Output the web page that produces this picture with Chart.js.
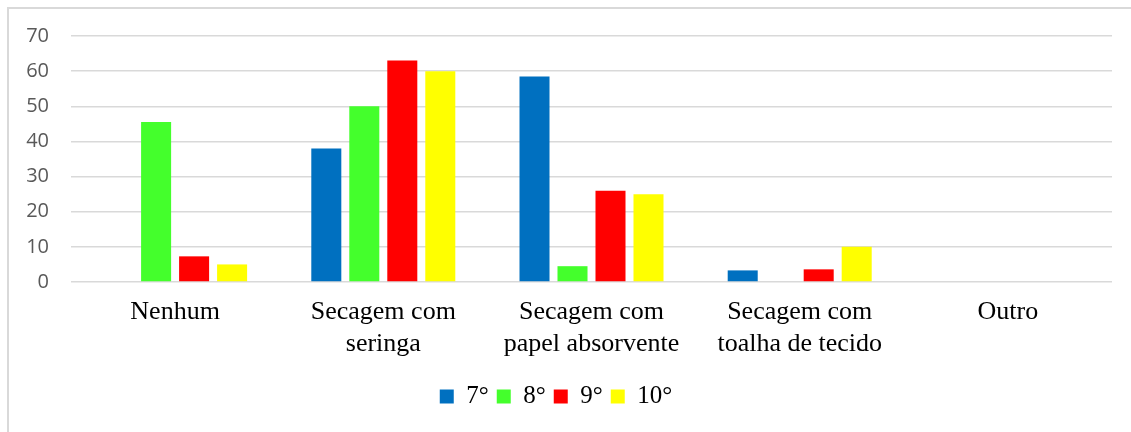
<!DOCTYPE html>
<html>
<head>
<meta charset="utf-8">
<script src="https://cdn.jsdelivr.net/npm/chart.js@4"></script>
<style>
  body { margin: 0; background: #fff; }
  #frame { position: absolute; left: 7px; top: 7px; width: 1200px; height: 500px;
           border-left: 2px solid #d9d9d9; border-top: 2px solid #d9d9d9; }
  #wrap { position: absolute; left: 0; top: 0; width: 1131px; height: 432px; }
</style>
</head>
<body>
<div id="frame"></div>
<div id="wrap"><canvas id="chart" width="1131" height="432"></canvas></div>
<script>
// categories on the x axis
var categories = [
    ['Nenhum'],
    ['Secagem com', 'seringa'],
    ['Secagem com', 'papel absorvente'],
    ['Secagem com', 'toalha de tecido'],
    ['Outro']
];
var seriesNames = ['7°', '8°', '9°', '10°'];
var serie7 = [0, 38, 58.5, 3.3, 0];
var serie8 = [45.5, 50, 4.5, 0, 0];
var serie9 = [7.3, 63, 26, 3.6, 0];
var serie10 = [5, 60, 25, 10, 0];
var colors = ['#0070C0', '#44FF2C', '#FF0000', '#FFFF00'];

var allSeries = [serie7, serie8, serie9, serie10];
var datasets = [];
for (var i = 0; i < allSeries.length; i++) {
    datasets.push({
        label: seriesNames[i],
        data: allSeries[i],
        backgroundColor: colors[i],
        borderWidth: 0,
        categoryPercentage: 0.73,
        barPercentage: 0.79
    });
}

const config = {
    type: 'bar',
    data: { labels: categories, datasets: datasets },
    options: {
        responsive: false,
        animation: false,
        layout: { padding: { left: 0, right: 19, top: 36, bottom: 13 } },
        plugins: {
            legend: {
                position: 'bottom',
                labels: {
                    boxWidth: 14,
                    boxHeight: 14,
                    padding: 8,
                    color: '#000',
                    font: { family: '"Liberation Serif", serif', size: 25 }
                }
            },
            tooltip: { enabled: false }
        },
        scales: {
            x: {
                grid: { display: false, drawTicks: false },
                border: { display: false },
                ticks: {
                    color: '#000',
                    padding: 15,
                    maxRotation: 0,
                    font: { family: '"Liberation Serif", serif', size: 26, lineHeight: 1.2 }
                },
                afterFit: function (scale) { scale.height = 94; }
            },
            y: {
                min: 0,
                max: 70,
                ticks: {
                    stepSize: 10,
                    color: '#595959',
                    padding: 22,
                    font: { family: '"Open Sans", sans-serif', size: 20 }
                },
                grid: { color: '#d9d9d9', lineWidth: 1.5, drawTicks: false },
                border: { display: false },
                afterFit: function (scale) { scale.width = 71; }
            }
        }
    }
};

var myChart = new Chart(document.getElementById('chart'), config);
</script>
</body>
</html>
